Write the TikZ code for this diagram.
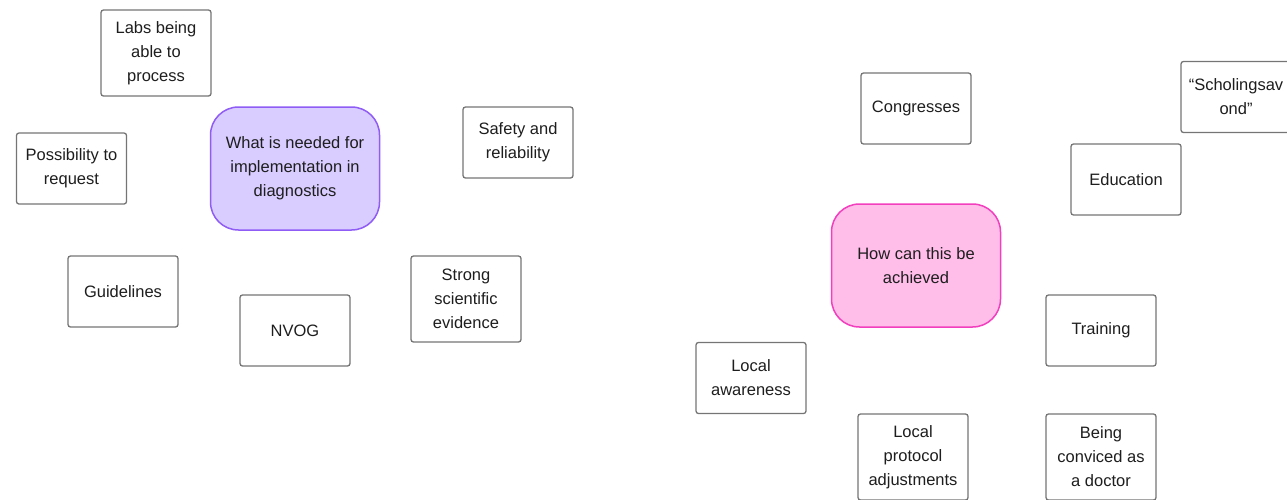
\documentclass[tikz,border=0pt]{standalone}
\usepackage{fontspec}
\setmainfont{Liberation Sans}
\definecolor{ink}{HTML}{1E1E1E}
\definecolor{edge}{HTML}{757575}
\definecolor{lilacfill}{HTML}{D9CCFF}
\definecolor{lilacline}{HTML}{8F5CF6}
\definecolor{pinkfill}{HTML}{FFBDEA}
\definecolor{pinkline}{HTML}{F23FBE}
\tikzset{
  note/.style={draw=edge, line width=1.3pt, rounded corners=2.5pt, fill=white,
    minimum width=110pt, align=center, inner sep=0pt, text=ink,
    font=\fontsize{16.5}{24}\selectfont},
  hub/.style={rounded corners=28pt, line width=1.5pt, minimum width=169pt,
    minimum height=123pt, align=center, inner sep=0pt, text=ink,
    font=\fontsize{16.5}{24}\selectfont},
}
\begin{document}
\begin{tikzpicture}[x=1pt,y=-1pt]
\useasboundingbox (0,0) rectangle (1287,499);
% left cluster
\node[hub, draw=lilacline, fill=lilacfill] (need) at (295,168.5) {What is needed for\\implementation in\\diagnostics};
\node[note, minimum height=86pt] (labs) at (156,53) {Labs being\\able to\\process};
\node[note, minimum height=71pt] (request) at (71.5,168.5) {Possibility to\\request};
\node[note, minimum height=71pt] (safety) at (518,142.5) {Safety and\\reliability};
\node[note, minimum height=71pt] (guide) at (123,291.5) {Guidelines};
\node[note, minimum height=71pt] (nvog) at (295,330.5) {NVOG};
\node[note, minimum height=86pt] (evidence) at (466,299) {Strong\\scientific\\evidence};
% right cluster
\node[hub, draw=pinkline, fill=pinkfill] (how) at (916,265.5) {How can this be\\achieved};
\node[note, minimum height=71pt] (congress) at (916,108.5) {Congresses};
\node[note, minimum height=71pt] (schol) at (1236,97) {“Scholingsav\\ond”};
\node[note, minimum height=71pt] (edu) at (1126,179.5) {Education};
\node[note, minimum height=71pt] (train) at (1101,330.5) {Training};
\node[note, minimum height=71pt] (aware) at (751,378) {Local\\awareness};
\node[note, minimum height=86pt] (protocol) at (913,457) {Local\\protocol\\adjustments};
\node[note, minimum height=86pt] (doctor) at (1101,457) {Being\\conviced as\\a doctor};
\end{tikzpicture}
\end{document}
